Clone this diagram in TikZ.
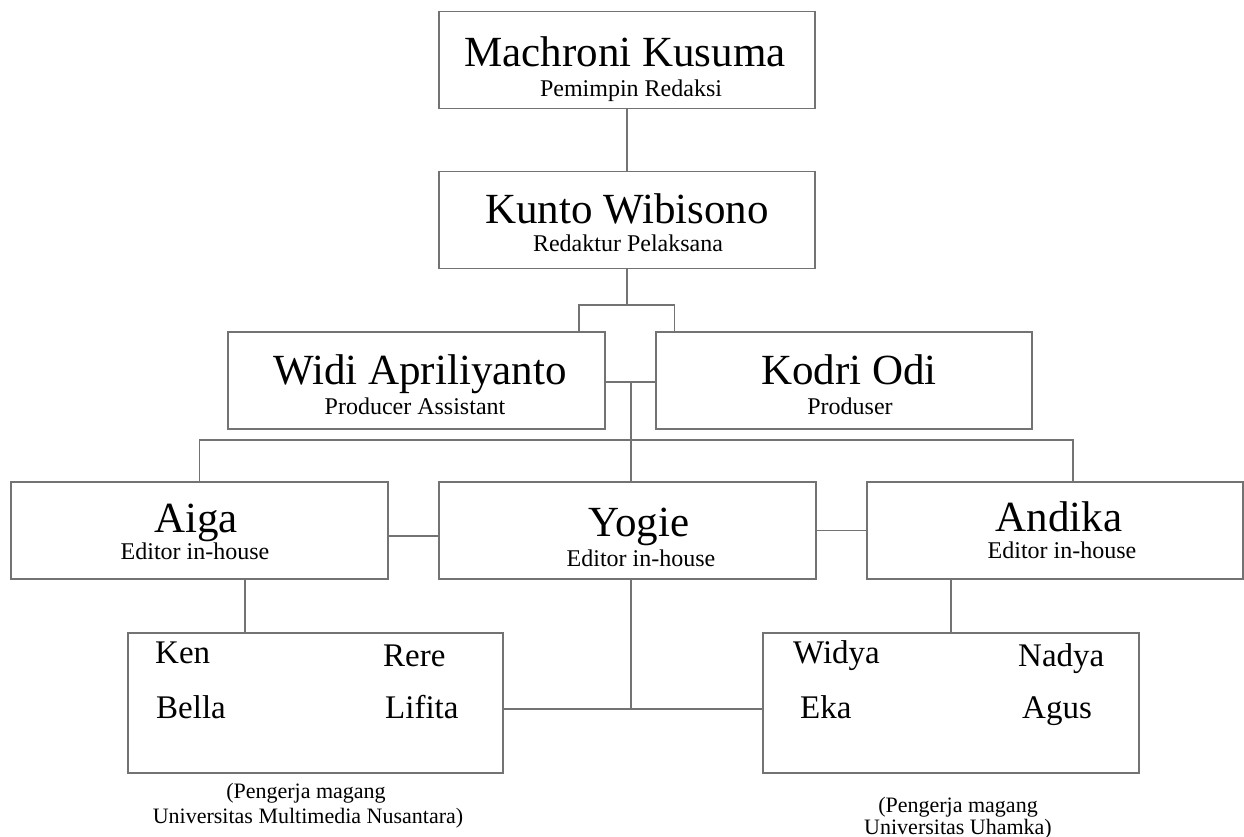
\documentclass[tikz,border=0pt]{standalone}
\usepackage{fontspec}
\setmainfont{Liberation Serif}
\begin{document}
\begin{tikzpicture}[x=1pt, y=-1pt,
  box/.style={draw=black!55, line width=1.5pt, minimum width=376pt, minimum height=97pt, inner sep=0pt},
  bigbox/.style={box, minimum height=140pt},
  link/.style={draw=black!55, line width=1.5pt},
  nm/.style={anchor=base, inner sep=0pt, font=\fontsize{43}{43}\selectfont},
  role/.style={anchor=base, inner sep=0pt, font=\fontsize{24}{24}\selectfont},
  intern/.style={anchor=base west, inner sep=0pt, font=\fontsize{33}{33}\selectfont},
  note/.style={anchor=base, inner sep=0pt, font=\fontsize{22}{22}\selectfont}]
  \useasboundingbox (0,0) rectangle (1244,837);

  \node[box] (mk) at (627,60) {};
  \node[box] (kw) at (627,220) {};
  \node[box, minimum width=377pt] (wa) at (416.5,380.5) {};
  \node[box] (ko) at (844,380.5) {};
  \node[box, minimum width=377pt] (ai) at (199.5,530.5) {};
  \node[box, minimum width=377pt] (yo) at (627.5,530.5) {};
  \node[box] (an) at (1055,530.5) {};
  \node[bigbox, minimum width=375pt] (ml) at (315.5,703) {};
  \node[bigbox] (mr) at (951,703) {};

  \coordinate (j1) at (627,305);
  \coordinate (j2) at (631,382);
  \coordinate (j3) at (631,440);
  \coordinate (j4) at (1073,440);
  \coordinate (j5) at (631,709);

  \draw[link] (mk) -- (kw);
  \draw[link] (kw) -- (j1);
  \draw[link] ([xshift=-27pt]wa.north east) |- (j1) -| ([xshift=19pt]ko.north west);
  \draw[link] (wa.east |- j2) -- (ko.west |- j2);
  \draw[link] (j2) -- (j3);
  \draw[link] (ai.north) |- (j4) -- (an.north -| j4);
  \draw[link] (j3) -- (yo.north -| j3);
  \draw[link] ([yshift=-5.5pt]ai.east) -- ([yshift=-5.5pt]yo.west);
  \draw[link] (yo) -- (an);
  \draw[link] ([xshift=45.5pt]ai.south) -- ([xshift=45.5pt]ai.south |- ml.north);
  \draw[link] (an.south -| mr) -- (mr.north);
  \draw[link] (yo.south -| j5) -- (j5);
  \draw[link] (ml.east |- j5) -- (mr.west |- j5);

  \node[nm] (mkn) at (625,67) {Machroni Kusuma};
  \node[role] (mkr) at (631,97) {Pemimpin Redaksi};
  \node[nm] (kwn) at (627,223) {Kunto Wibisono};
  \node[role] (kwr) at (628,251) {Redaktur Pelaksana};
  \node[nm] (wan) at (420,384) {Widi Apriliyanto};
  \node[role] (war) at (415,414) {Producer Assistant};
  \node[nm] (kon) at (849,384) {Kodri Odi};
  \node[role] (kor) at (850,414) {Produser};
  \node[nm] (ain) at (196,532) {Aiga};
  \node[role] (air) at (195,559) {Editor in-house};
  \node[nm] (yon) at (639,536) {Yogie};
  \node[role] (yor) at (641,566) {Editor in-house};
  \node[nm] (ann) at (1059,531) {Andika};
  \node[role] (anr) at (1062,558) {Editor in-house};

  \node[intern] (ken) at (155,663) {Ken};
  \node[intern] (rere) at (383,666) {Rere};
  \node[intern] (bella) at (156,718) {Bella};
  \node[intern] (lifita) at (385,718) {Lifita};
  \node[intern] (widya) at (793,663) {Widya};
  \node[intern] (nadya) at (1018,666) {Nadya};
  \node[intern] (eka) at (800,718) {Eka};
  \node[intern] (agus) at (1022,718) {Agus};

  \node[note] (umn1) at (306,798) {(Pengerja magang};
  \node[note] (umn2) at (308,823) {Universitas Multimedia Nusantara)};
  \node[note] (uh1) at (958,812) {(Pengerja magang};
  \node[note] (uh2) at (958,834) {Universitas Uhamka)};
\end{tikzpicture}
\end{document}
